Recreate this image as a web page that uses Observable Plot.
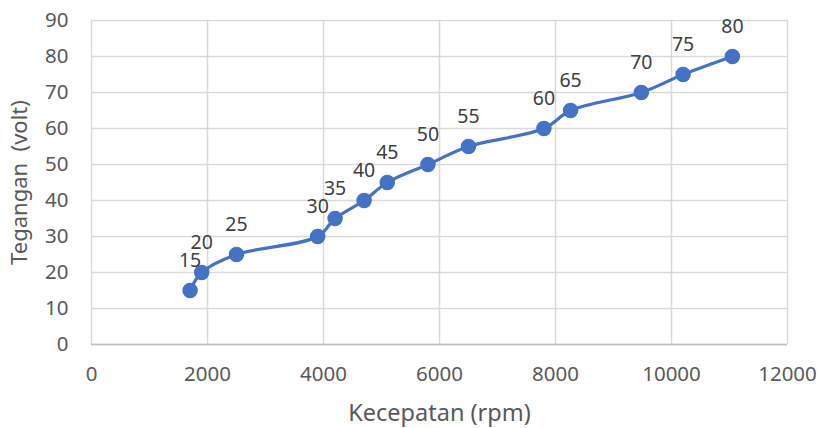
<!DOCTYPE html>
<html>
<head>
<meta charset="utf-8">
<script src="https://cdn.jsdelivr.net/npm/d3@7"></script>
<script src="https://cdn.jsdelivr.net/npm/@observablehq/plot@0.6"></script>
<style>
  html, body { margin: 0; padding: 0; background: #fff; }
  svg text { white-space: pre; }
  g[aria-label="x-axis label"] text { font-size: 23.5px; }
  g[aria-label="y-axis label"] text { font-size: 22px; }
</style>
</head>
<body>
<div id="chart"></div>
<script>
const kecepatan = [1700, 1900, 2500, 3900, 4200, 4700, 5100, 5800, 6500, 7800, 8260, 9480, 10200, 11050];
const tegangan  = [15, 20, 25, 30, 35, 40, 45, 50, 55, 60, 65, 70, 75, 80];
const xTicks = [0, 2000, 4000, 6000, 8000, 10000, 12000];
const yTicks = [0, 10, 20, 30, 40, 50, 60, 70, 80, 90];

const data = kecepatan.map((x, i) => ({x, y: tegangan[i]}));
const font = "'Noto Sans', 'Open Sans', sans-serif";

const chart = Plot.plot({
  width: 818,
  height: 428,
  marginLeft: 91,
  marginRight: 31,
  marginTop: 20,
  marginBottom: 84,
  style: {fontFamily: font, background: "#fff"},
  x: {domain: [0, 12000]},
  y: {domain: [0, 90]},
  marks: [
    Plot.gridX(xTicks, {stroke: "#d9d9d9", strokeOpacity: 1, strokeWidth: 1.5}),
    Plot.gridY(yTicks, {stroke: "#d9d9d9", strokeOpacity: 1, strokeWidth: 1.5}),
    Plot.ruleY([0], {stroke: "#bfbfbf", strokeWidth: 1.5}),
    Plot.axisX(xTicks, {
      tickSize: 0, tickPadding: 22, fontSize: 20.5, color: "#595959", tickFormat: d => String(d),
      label: "Kecepatan (rpm)", labelAnchor: "center", labelArrow: "none", labelOffset: 76
    }),
    Plot.axisY(yTicks, {
      tickSize: 0, tickPadding: 23, fontSize: 20.5, color: "#595959", tickFormat: d => String(d),
      label: "Tegangan  (volt)", labelAnchor: "center", labelArrow: "none", labelOffset: 80
    }),
    Plot.line(data, {x: "x", y: "y", stroke: "#4472c4", strokeWidth: 3.2, curve: "catmull-rom"}),
    Plot.dot(data, {x: "x", y: "y", r: 7, fill: "#4472c4", stroke: "#4472c4"}),
    Plot.text(data, {x: "x", y: "y", text: d => String(d.y), dy: -30, fontSize: 19.5, fill: "#404040"})
  ]
});
document.getElementById("chart").appendChild(chart);
</script>
</body>
</html>
